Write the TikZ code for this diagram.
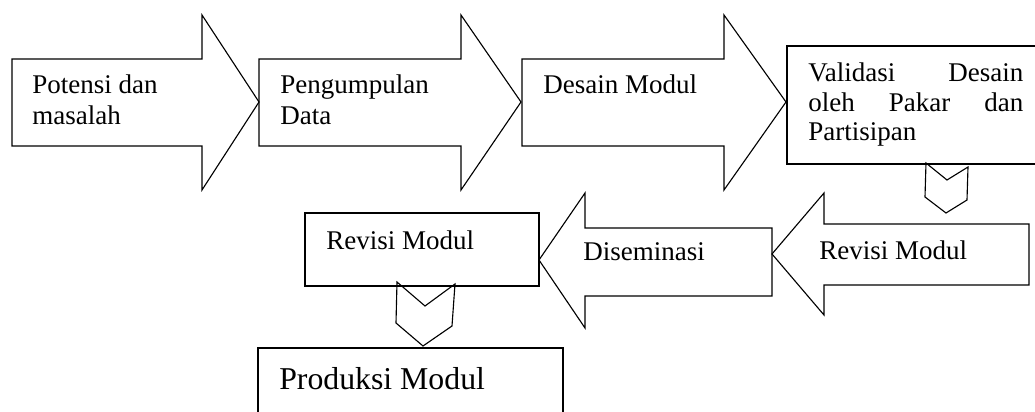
\documentclass[tikz,border=0pt]{standalone}
\usepackage{fontspec}
\setmainfont{Liberation Serif}
\tikzset{
  blk/.style={draw, line width=0.8pt, line join=miter},
  lbl/.style={inner sep=0pt, anchor=base west, align=left, font=\fontsize{19.2}{22.7}\selectfont},
}
\begin{document}
\begin{tikzpicture}[x=0.025cm, y=-0.025cm]
    \clip (0,0) rectangle (1035,412);

    % top row
    \draw[blk] (12,59) -- (202,59) -- (202,15) -- (259,102) -- (202,190) -- (202,146) -- (12,146) -- cycle;
    \node[lbl] (potensi) at (32,125) {Potensi dan\\masalah};

    \draw[blk] (259,59) -- (461,59) -- (461,15) -- (521,102) -- (461,190) -- (461,146) -- (259,146) -- cycle;
    \node[lbl] (pengumpulan) at (280,125) {Pengumpulan\\Data};

    \draw[blk] (522,59) -- (724,59) -- (724,15) -- (786,102) -- (724,190) -- (724,146) -- (522,146) -- cycle;
    \node[lbl] (desain) at (543,94) {Desain Modul};

    \draw[blk] (787,46) rectangle (1045,164);
    \node[lbl, text width=5.375cm, font=\fontsize{19.2}{20.8}\selectfont] (validasi) at (808,82)
        {Validasi\hfill Desain\\oleh\hfill Pakar\hfill dan\\Partisipan};
    \draw[blk] (926,163) -- (947,180) -- (968,167) -- (967,200) -- (946,213) -- (925,197) -- cycle;

    % bottom row
    \draw[blk] (1029,224) -- (824,224) -- (824,193) -- (772,254) -- (824,315) -- (824,285) -- (1029,285) -- cycle;
    \node[lbl] (revisiB) at (819,260) {Revisi Modul};

    \draw[blk] (772,228) -- (585,228) -- (585,193) -- (539,260) -- (585,328) -- (585,296) -- (772,296) -- cycle;
    \node[lbl] (diseminasi) at (583,261) {Diseminasi};

    \draw[blk] (305,213) rectangle (539,286);
    \node[lbl] (revisiA) at (326,250) {Revisi Modul};
    \draw[blk] (397,282) -- (425,306) -- (455,284) -- (452,326) -- (423,346) -- (396,323) -- cycle;

    \draw[blk] (258,348) rectangle (563,440);
    \node[lbl, font=\fontsize{22.6}{26}\selectfont] (produksi) at (279,390) {Produksi Modul};

\end{tikzpicture}
\end{document}
